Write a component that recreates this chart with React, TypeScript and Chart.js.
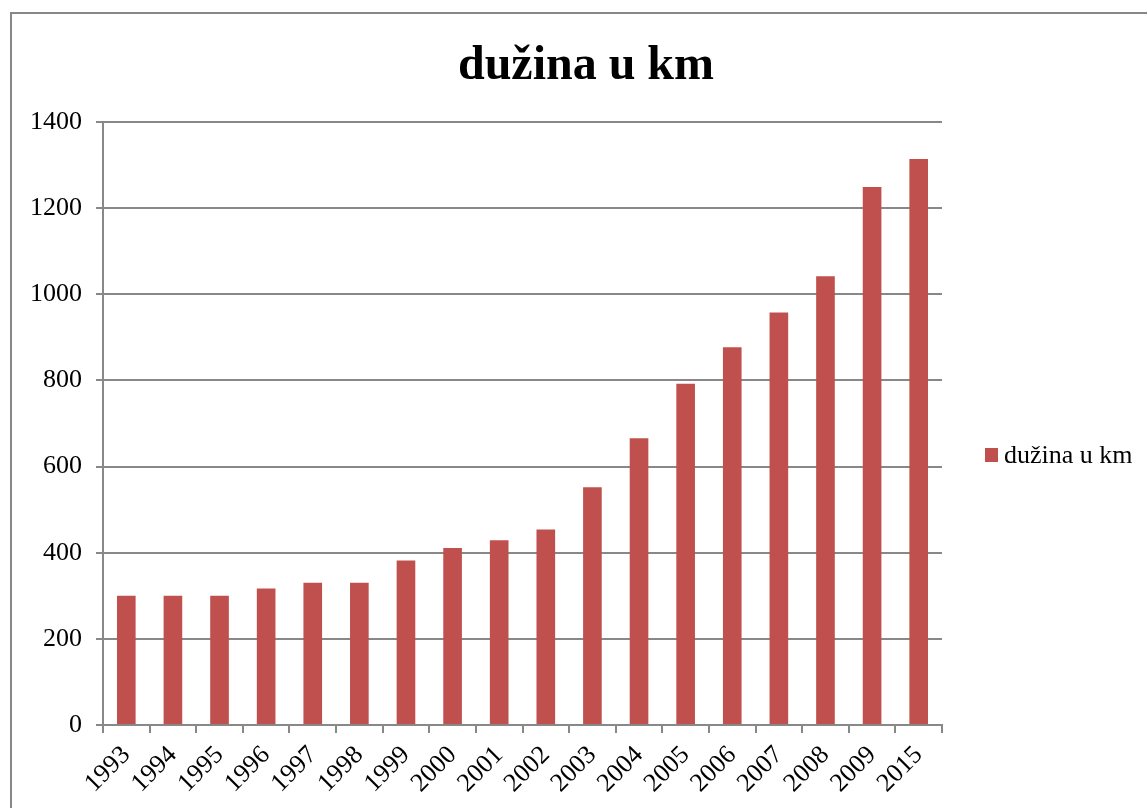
import React, { useEffect, useRef } from "react";
import { Chart, registerables } from "chart.js";

Chart.register(...registerables);

const categories = ["1993", "1994", "1995", "1996", "1997", "1998", "1999", "2000", "2001", "2002", "2003", "2004", "2005", "2006", "2007", "2008", "2009", "2015"];
const lengthKm = [300, 300, 300, 317, 330, 330, 382, 411, 429, 454, 552, 666, 792, 877, 958, 1042, 1249, 1314];
const seriesName = "dužina u km";
const chartTitle = "dužina u km";

const BAR = "#C0504D";
const LINE = "#888888";
const FONT = "'Liberation Serif', 'Times New Roman', serif";

const decorPlugin = {
  id: "decor",
  afterDraw(chart: any) {
    const ctx = chart.ctx;
    ctx.save();
    // outer border
    ctx.strokeStyle = "#878787";
    ctx.lineWidth = 2;
    ctx.strokeRect(11, 13, 1300, 1000);
    // title
    ctx.fillStyle = "#000";
    ctx.font = `bold 48px ${FONT}`;
    ctx.textAlign = "center";
    ctx.textBaseline = "alphabetic";
    ctx.fillText(chartTitle, 586, 79);
    // legend
    ctx.fillStyle = BAR;
    ctx.fillRect(985, 448, 13, 14);
    ctx.fillStyle = "#000";
    ctx.font = `26px ${FONT}`;
    ctx.textAlign = "left";
    ctx.fillText(seriesName, 1004, 463);
    ctx.restore();
  },
};

export default function App() {
  const ref = useRef<HTMLCanvasElement | null>(null);
  useEffect(() => {
    if (!ref.current) return;
    const chart = new Chart(ref.current, {
      type: "bar",
      data: {
        labels: categories,
        datasets: [
          {
            label: seriesName,
            data: lengthKm,
            backgroundColor: BAR,
            borderWidth: 0,
            categoryPercentage: 1,
            barPercentage: 0.4,
          },
        ],
      },
      options: {
        animation: false,
        responsive: false,
        maintainAspectRatio: false,
        layout: { padding: { left: 0, top: 122, right: 205, bottom: 0 } },
        plugins: {
          legend: { display: false },
          title: { display: false },
          tooltip: { enabled: false },
        },
        scales: {
          x: {
            offset: true,
            grid: {
              offset: true,
              drawOnChartArea: false,
              drawTicks: true,
              tickLength: 8,
              color: LINE,
              lineWidth: 2,
            },
            border: { color: LINE, width: 2 },
            ticks: {
              color: "#000",
              font: { family: FONT, size: 26 },
              minRotation: 45,
              maxRotation: 45,
              padding: 7,
              autoSkip: false,
            },
            afterFit: (s: any) => {
              s.height = 83;
            },
          },
          y: {
            min: 0,
            max: 1400,
            ticks: {
              stepSize: 200,
              color: "#000",
              font: { family: FONT, size: 26 },
              padding: 14,
              callback: (v: any) => String(v),
            },
            grid: {
              color: LINE,
              lineWidth: 2,
              drawTicks: true,
              tickLength: 7,
            },
            border: { color: LINE, width: 2 },
            afterFit: (s: any) => {
              s.width = 103;
            },
          },
        },
      },
      plugins: [decorPlugin],
    });
    return () => chart.destroy();
  }, []);
  return (
    <div style={{ position: "fixed", left: 0, top: 0, width: 1147, height: 808, background: "#fff" }}>
      <canvas ref={ref} width={1147} height={808} style={{ display: "block", width: 1147, height: 808 }} />
    </div>
  );
}
